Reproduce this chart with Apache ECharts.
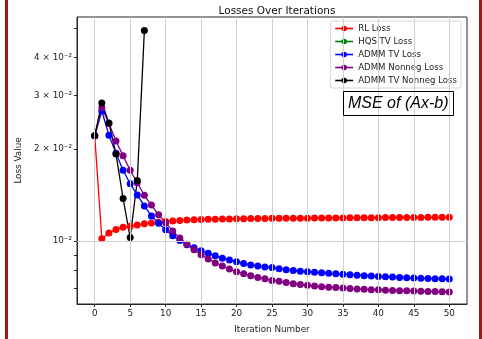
<!DOCTYPE html>
<html>
<head>
<meta charset="utf-8">
<script src="https://cdn.jsdelivr.net/npm/echarts@6/dist/echarts.min.js"></script>
<style>
  html, body { margin: 0; padding: 0; background: #fff; }
  #chart { width: 482px; height: 339px; }
</style>
</head>
<body>
<div id="chart"></div>
<script>
const iterations = Array.from({ length: 51 }, (_, i) => i);

const rlLoss = [
  0.02214, 0.01017, 0.01061, 0.01091, 0.01108, 0.01118, 0.01129, 0.01138, 0.01145, 0.01152,
  0.01158, 0.01163, 0.01168, 0.01171, 0.01174, 0.01176, 0.01178, 0.01179, 0.01180, 0.01181,
  0.01182, 0.01183, 0.01184, 0.01184, 0.01185, 0.01186, 0.01186, 0.01187, 0.01187, 0.01188,
  0.01188, 0.01189, 0.01189, 0.01190, 0.01190, 0.01190, 0.01191, 0.01191, 0.01192, 0.01192,
  0.01192, 0.01193, 0.01193, 0.01193, 0.01194, 0.01194, 0.01194, 0.01195, 0.01195, 0.01195,
  0.01196
];

const hqsTvLoss = [];

const admmTvLoss = [
  0.02214, 0.02668, 0.02224, 0.01940, 0.01706, 0.01541, 0.01416, 0.01303, 0.01207, 0.01144,
  0.01089, 0.01040, 0.01004, 0.00971, 0.00949, 0.00928, 0.00911, 0.00894, 0.00878, 0.00866,
  0.00855, 0.00844, 0.00834, 0.00828, 0.00822, 0.00818, 0.00810, 0.00804, 0.00800, 0.00795,
  0.00793, 0.00790, 0.00786, 0.00783, 0.00780, 0.00778, 0.00775, 0.00772, 0.00769, 0.00767,
  0.00765, 0.00763, 0.00761, 0.00759, 0.00757, 0.00756, 0.00755, 0.00753, 0.00752, 0.00751,
  0.00750
];

const admmNonnegLoss = [
  0.02214, 0.02735, 0.02427, 0.02127, 0.01902, 0.01706, 0.01552, 0.01412, 0.01311, 0.01218,
  0.01148, 0.01077, 0.01023, 0.00976, 0.00935, 0.00901, 0.00873, 0.00847, 0.00828, 0.00809,
  0.00793, 0.00780, 0.00769, 0.00759, 0.00751, 0.00742, 0.00737, 0.00730, 0.00724, 0.00719,
  0.00715, 0.00711, 0.00708, 0.00705, 0.00703, 0.00701, 0.00698, 0.00696, 0.00694, 0.00692,
  0.00691, 0.00689, 0.00688, 0.00687, 0.00686, 0.00685, 0.00684, 0.00683, 0.00682, 0.00681,
  0.00680
];

const admmTvNonnegLoss = [0.02214, 0.02838, 0.02440, 0.01927, 0.01378, 0.01026, 0.01579, 0.04900];

const xTicks = [0, 5, 10, 15, 20, 25, 30, 35, 40, 45, 50];
const yLabelValues = [0.01, 0.02, 0.03, 0.04];
const yLabelTexts = ["10⁻²", "2 × 10⁻²", "3 × 10⁻²", "4 × 10⁻²"];
const yTickValues = [0.007, 0.008, 0.009, 0.01, 0.02, 0.03, 0.04, 0.05];
const yGridValues = [0.01];

const seriesDefs = [
  { name: "RL Loss", color: "#ff0000", values: rlLoss },
  { name: "HQS TV Loss", color: "#008000", values: hqsTvLoss },
  { name: "ADMM TV Loss", color: "#0000ff", values: admmTvLoss },
  { name: "ADMM Nonneg Loss", color: "#800080", values: admmNonnegLoss },
  { name: "ADMM TV Nonneg Loss", color: "#000000", values: admmTvNonnegLoss },
];

const FONT = "DejaVu Sans";
const AXIS_COLOR = "#262626";
const GRID_COLOR = "#cfcfcf";

const series = seriesDefs.map((s) => ({
  name: s.name,
  type: "line",
  symbol: "circle",
  symbolSize: 7,
  showSymbol: true,
  lineStyle: { width: 1.3, color: s.color },
  itemStyle: { color: s.color },
  z: 3,
  data: s.values.map((v, i) => [iterations[i], v]),
}));

// grid lines (matplotlib draws them only at major ticks)
series.push({
  name: "grid",
  type: "scatter",
  data: [],
  silent: true,
  z: 1,
  markLine: {
    silent: true,
    symbol: ["none", "none"],
    label: { show: false },
    lineStyle: { color: GRID_COLOR, type: "solid", width: 1 },
    data: [
      ...yGridValues.map((v) => ({ yAxis: v })),
      ...xTicks.map((v) => ({ xAxis: v })),
    ],
  },
});

const chart = echarts.init(document.getElementById("chart"), null, { renderer: "canvas" });

chart.setOption({
  backgroundColor: "#fff",
  animation: false,
  title: [
    {
      text: "Losses Over Iterations",
      left: 272,
      top: 1,
      textAlign: "center",
      textStyle: { fontFamily: FONT, fontSize: 10.5, fontWeight: "normal", color: "#111" },
    },
    {
      text: "MSE of (Ax-b)",
      left: 343,
      top: 91,
      padding: [5, 5, 4, 5],
      borderColor: "#000",
      borderWidth: 1,
      textStyle: {
        fontFamily: "Liberation Sans",
        fontStyle: "italic",
        fontSize: 16,
        fontWeight: "normal",
        color: "#000",
      },
    },
  ],
  legend: {
    orient: "vertical",
    right: 21,
    top: 21,
    itemWidth: 18,
    itemHeight: 7,
    itemGap: 4,
    padding: [3, 4, 3, 4],
    borderColor: "#d6d6d6",
    borderWidth: 1,
    borderRadius: 2,
    backgroundColor: "rgba(255,255,255,0.85)",
    lineStyle: { width: 1.6 },
    textStyle: { fontFamily: FONT, fontSize: 8.6, color: "#222" },
    data: seriesDefs.map((s) => s.name),
  },
  grid: {
    left: 77,
    right: 15,
    top: 17,
    bottom: 31,
    show: true,
    borderColor: AXIS_COLOR,
    borderWidth: 1,
    containLabel: false,
  },
  xAxis: {
    type: "value",
    min: -2.5,
    max: 52.5,
    name: "Iteration Number",
    nameLocation: "middle",
    nameGap: 21,
    nameTextStyle: { fontFamily: FONT, fontSize: 8.8, color: "#222" },
    axisLine: { show: true, onZero: false, lineStyle: { color: AXIS_COLOR } },
    axisTick: { show: true, length: 3, customValues: xTicks, lineStyle: { color: AXIS_COLOR } },
    axisLabel: {
      customValues: xTicks,
      fontFamily: FONT,
      fontSize: 8.8,
      color: "#222",
      margin: 5,
    },
    splitLine: { show: false },
  },
  yAxis: {
    type: "log",
    logBase: 10,
    min: 0.00621,
    max: 0.0543,
    name: "Loss Value",
    nameLocation: "middle",
    nameGap: 37,
    nameTextStyle: { fontFamily: FONT, fontSize: 8.8, color: "#222" },
    axisLine: { show: true, onZero: false, lineStyle: { color: AXIS_COLOR } },
    axisTick: { show: true, length: 3, customValues: yTickValues, lineStyle: { color: AXIS_COLOR } },
    axisLabel: {
      customValues: yLabelValues,
      fontFamily: FONT,
      fontSize: 8.8,
      color: "#222",
      margin: 5,
      formatter: (val) => {
        const i = yLabelValues.findIndex((v) => Math.abs(v - val) < 1e-9);
        return i >= 0 ? yLabelTexts[i] : "";
      },
    },
    splitLine: { show: false },
  },
  graphic: [
    { type: "rect", left: 5, top: 0, shape: { width: 3, height: 339 }, style: { fill: "#9e1b1b" } },
    { type: "rect", left: 479, top: 0, shape: { width: 3, height: 339 }, style: { fill: "#9e1b1b" } },
  ],
  series,
});
</script>
</body>
</html>
